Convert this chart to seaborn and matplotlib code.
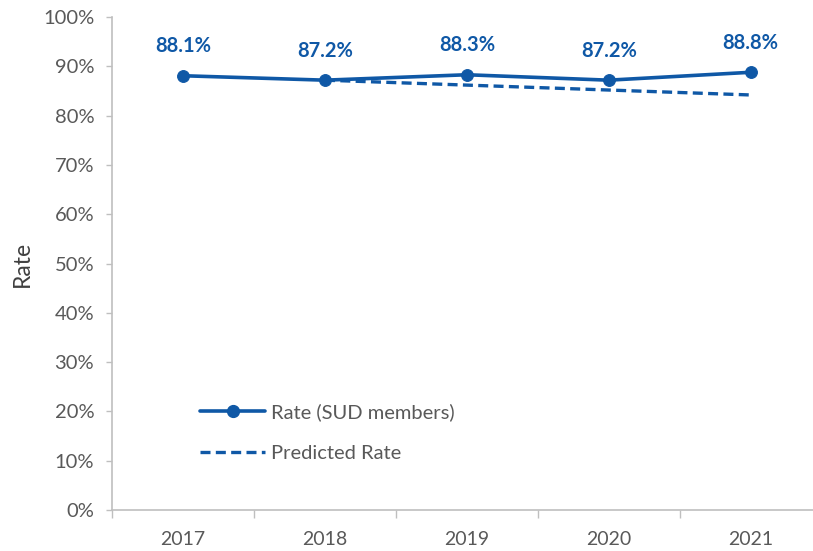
import matplotlib
matplotlib.use("Agg")
import matplotlib.pyplot as plt
import seaborn as sns
import pandas as pd
from matplotlib.ticker import FixedLocator, PercentFormatter
from matplotlib.lines import Line2D

years = ["2017", "2018", "2019", "2020", "2021"]
rate = [88.1, 87.2, 88.3, 87.2, 88.8]
pred_years = ["2018", "2019", "2020", "2021"]
pred_rate = [87.2, 86.2, 85.2, 84.2]
labels = ["88.1%", "87.2%", "88.3%", "87.2%", "88.8%"]

sns.set_theme(style="white")
plt.rcParams['font.family'] = ['Lato', 'DejaVu Sans']

blue = "#0F58A6"
gray_txt = "#595959"
spine_c = "#BFBFBF"

df = pd.DataFrame({"x": range(len(years)), "rate": rate})
dfp = pd.DataFrame({"x": [years.index(y) for y in pred_years], "rate": pred_rate})

fig = plt.figure(figsize=(8.13, 5.51), dpi=100)
ax = fig.add_axes([0.138, 0.0744, 0.862, 0.8946])

sns.lineplot(data=dfp, x="x", y="rate", ax=ax, color=blue, linewidth=2.4,
             linestyle=(0, (3, 1.6)))
sns.lineplot(data=df, x="x", y="rate", ax=ax, color=blue, linewidth=2.6,
             marker="o", markersize=8.5, markeredgecolor=blue)

for i, (v, t) in enumerate(zip(rate, labels)):
    ax.annotate(t, (i, v), xytext=(0, 14), textcoords="offset points",
                ha="center", va="bottom", color=blue, fontsize=14.5,
                fontweight="bold")

ax.set_xlim(-0.5, 4.44)
ax.set_ylim(0, 100)
ax.set_yticks(range(0, 101, 10))
ax.yaxis.set_major_formatter(PercentFormatter(decimals=0))
ax.set_xticks(range(len(years)))
ax.set_xticklabels(years)
ax.xaxis.set_minor_locator(FixedLocator([i - 0.5 for i in range(len(years) + 1)]))
ax.tick_params(axis="x", which="major", length=0, pad=15, labelsize=14, colors=gray_txt)
ax.tick_params(axis="x", which="minor", length=6, width=1, color=spine_c, bottom=True)
ax.tick_params(axis="y", length=4, width=1, color=spine_c, labelsize=14.5,
               labelcolor=gray_txt, left=True, pad=9)
ax.set_xlabel("")
ax.set_ylabel("Rate", fontsize=16.5, color="#404040", labelpad=7)

for s in ["top", "right"]:
    ax.spines[s].set_visible(False)
for s in ["left", "bottom"]:
    ax.spines[s].set_color(spine_c)
    ax.spines[s].set_linewidth(1.2)

handles = [
    Line2D([0], [0], color=blue, linewidth=2.6, marker="o", markersize=8.5),
    Line2D([0], [0], color=blue, linewidth=2.4, linestyle=(0, (3, 1.6))),
]
leg = ax.legend(handles, ["Rate (SUD members)", "Predicted Rate"], loc="lower left",
                bbox_to_anchor=(0.1, 0.06), frameon=False, fontsize=14.5,
                handlelength=3.2, labelspacing=1.2, handletextpad=0.3)
for t in leg.get_texts():
    t.set_color(gray_txt)

fig.savefig("out.png", dpi=100)
